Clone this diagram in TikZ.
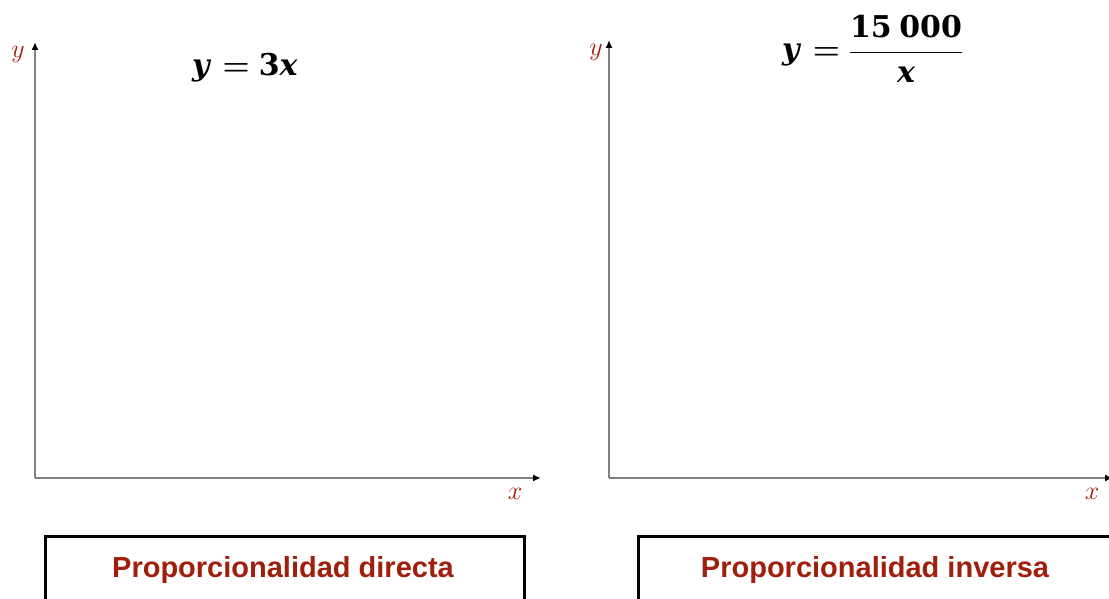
\RequirePackage{fix-cm}
\documentclass[tikz,border=0pt]{standalone}
\usepackage{amsmath}
\usepackage[no-math]{fontspec}
\newfontfamily\arialfont{Liberation Sans}
\newfontfamily\serfont{DejaVu Serif}
\usetikzlibrary{arrows.meta}
\definecolor{labred}{RGB}{160,30,12}
\definecolor{axgray}{RGB}{128,128,128}
\tikzset{
  axisline/.style={draw=axgray, line width=2pt, -{Latex[length=8pt,width=7pt,black]}},
  axlabel/.style={text=labred, font=\fontsize{26}{28}\selectfont, inner sep=0pt},
  formula/.style={font=\fontsize{30}{36}\selectfont\serfont\bfseries\boldmath, inner sep=0pt},
  titlebox/.style={draw=black, line width=2.5pt},
  titletext/.style={text=labred, font=\arialfont\bfseries\fontsize{29}{34}\selectfont, inner sep=0pt}
}
\newcommand{\eqsgn}{\hspace{0.38em}{\fontsize{31}{36}\selectfont\boldmath$=$}\hspace{0.3em}}
\begin{document}
\begin{tikzpicture}[x=1pt,y=-1pt]
\clip (0,0) rectangle (1109,599);
\fill[white] (0,0) rectangle (1109,599);
% left axes
\coordinate (o1) at (35,478);
\coordinate (y1) at (35,42);
\coordinate (x1) at (541,478);
\draw[axisline] (o1) -- (y1);
\draw[axisline] (o1) -- (x1);
\node[axlabel, anchor=base] (ly1) at (18,58) {$y$};
\node[axlabel, anchor=base] (lx1) at (515,499) {$x$};
\node[formula, anchor=base west] (f1) at (192,76) {\textit{y}\eqsgn 3\textit{x}};
% right axes
\coordinate (o2) at (609,478);
\coordinate (y2) at (609,40);
\coordinate (x2) at (1113,478);
\draw[axisline] (o2) -- (y2);
\draw[axisline] (o2) -- (x2);
\node[axlabel, anchor=base] (ly2) at (596,56) {$y$};
\node[axlabel, anchor=base] (lx2) at (1092,499) {$x$};
\node[formula, anchor=base west] (f2) at (782,60) {\textit{y}\eqsgn$\dfrac{\text{15\hspace{0.25em}000}}{\text{\itshape x}}$};
% boxes
\node[titlebox, minimum width=479pt, minimum height=70pt, anchor=north west] (b1) at (44,535) {};
\node[titletext, anchor=base] (t1) at (283,577) {Proporcionalidad directa};
\node[titlebox, minimum width=490pt, minimum height=70pt, anchor=north west] (b2) at (637,535) {};
\node[titletext, anchor=base] (t2) at (875,577) {Proporcionalidad inversa};
\end{tikzpicture}
\end{document}
